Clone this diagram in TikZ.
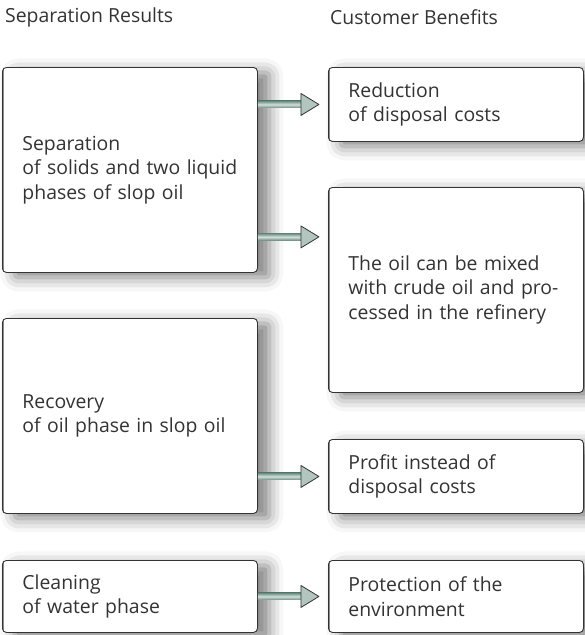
\documentclass[tikz,border=0pt]{standalone}
\usepackage{fontspec}
\setmainfont{Open Sans}
\usetikzlibrary{shadows.blur,calc}
\definecolor{txt}{HTML}{333333}
\definecolor{shaftdark}{HTML}{6A8C82}
\definecolor{shaftlight}{HTML}{D3DFDA}
\definecolor{headfill}{HTML}{B2C6BF}
\begin{document}
\begin{tikzpicture}[x=1pt,y=-1pt,
  font=\fontsize{19.4}{24.5}\selectfont, text=txt,
  box/.style={draw=black!80, line width=0.9pt, rounded corners=4pt, fill=white,
    anchor=north west, inner xsep=20pt, inner ysep=0pt, align=left, text width=215pt,
    blur shadow={shadow xshift=12pt, shadow yshift=-5pt, shadow blur radius=14pt, shadow opacity=50},
    path picture={\draw[black!45, line width=3pt] (path picture bounding box.north west) -- (path picture bounding box.south west);}},
  head/.style={anchor=west, inner sep=0pt},
]
\useasboundingbox (0,0) rectangle (585,635);
\node[head] (h1) at (5,17) {Separation Results};
\node[head] (h2) at (330,17) {Customer Benefits};

\node[box, minimum height=205pt] (b1) at (2,67) {Separation\\of solids and two liquid\\phases of slop oil};
\node[box, minimum height=195pt] (b2) at (2,318) {Recovery\\of oil phase in slop oil};
\node[box, minimum height=72pt] (b3) at (2,560) {Cleaning\\of water phase};

\node[box, minimum height=74pt] (r1) at (328,67) {Reduction\\of disposal costs};
\node[box, minimum height=205pt] (r2) at (328,187) {The oil can be mixed\\with crude oil and pro-\\cessed in the refinery};
\node[box, minimum height=74pt] (r3) at (328,439) {Profit instead of\\disposal costs};
\node[box, minimum height=72pt] (r4) at (328,560) {Protection of the\\environment};

\coordinate (a1) at (b1.east |- r1.west);
\coordinate (a2) at ($(b1.south east)+(0,-36)$);
\coordinate (a3) at (b2.east |- r3.west);
\coordinate (a4) at (b3.east |- r4.west);

\foreach \a in {a1,a2,a3,a4}{
  \shade[top color=shaftdark, bottom color=shaftdark, middle color=shaftlight]
    ($(\a)+(0,-3.5)$) rectangle ($(\a)+(43,3.5)$);
  \draw[fill=headfill, draw=black!80, line width=0.8pt, line join=round]
    ($(\a)+(43,-11)$) -- ($(\a)+(61,0)$) -- ($(\a)+(43,11)$) -- cycle;
}
\end{tikzpicture}
\end{document}
